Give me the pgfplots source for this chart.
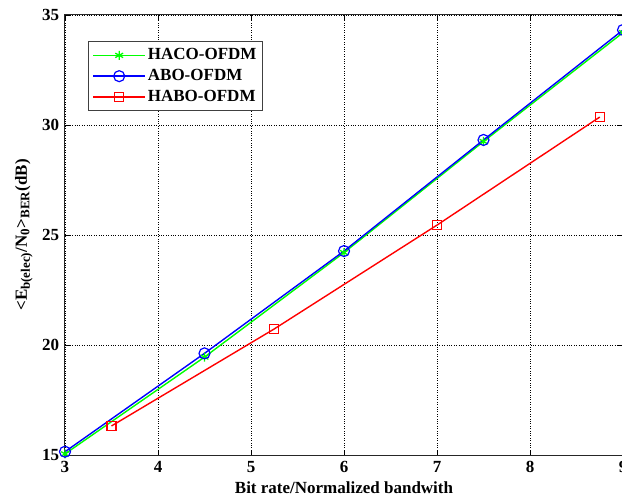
\documentclass[border=0pt]{standalone}
\usepackage{fontspec}
\setmainfont{Liberation Serif}
\usepackage{pgfplots}
\pgfplotsset{compat=1.18}
\usetikzlibrary{calc}
\begin{document}
\fontsize{17}{20}\selectfont\bfseries
\begin{tikzpicture}
\begin{axis}[name=ax, scale only axis, width=558pt, height=440pt,
 xmin=3, xmax=9, ymin=15, ymax=35,
 xtick={3,4,5,6,7,8,9}, ytick={15,20,25,30,35},
 grid=major, major grid style={black, dotted, line width=0.8pt},
 axis line style={black!85, line width=1pt},
 tick style={black, line width=0.8pt}, tick align=inside, major tick length=5pt,
 tick label style={font=\fontsize{17}{17}\selectfont\bfseries},
 /pgf/number format/assume math mode=true,
 xlabel={Bit rate/Normalized bandwith},
 ylabel={<E\textsubscript{\fontsize{13}{13}\selectfont b(elec)}/N\textsubscript{\fontsize{13}{13}\selectfont 0}>\textsubscript{\fontsize{13}{13}\selectfont BER}(dB)},
 label style={font=\fontsize{17}{17}\selectfont\bfseries},
 xlabel style={yshift=2pt},
 ylabel style={yshift=-2pt},
 legend style={at={(0.0412,0.941)}, anchor=north west, draw=black!75, line width=1pt,
   font=\fontsize{17}{19}\selectfont\bfseries, inner xsep=4pt, inner ysep=5pt, row sep=3pt},
 legend cell align=left,
 legend image code/.code={\draw[mark repeat=2,mark phase=2] plot coordinates {(0pt,0pt) (26pt,0pt) (52pt,0pt)};},
]
\addplot[color=green!100!black, line width=1.4pt, mark=asterisk, mark size=4.5pt, mark options={solid, line width=1.3pt}]
 coordinates {(3,15.05) (4.5,19.45) (6,24.2) (7.5,29.25) (9,34.2)};
\addlegendentry{HACO-OFDM}
\addplot[color=blue, line width=1.4pt, mark=o, mark size=5.5pt, mark options={solid, line width=1.2pt}]
 coordinates {(3,15.15) (4.5,19.62) (6,24.27) (7.5,29.32) (9,34.32)};
\addlegendentry{ABO-OFDM}
\addplot[color=red, line width=1.4pt, mark=square, mark size=4.5pt, mark options={solid, line width=1.2pt}]
 coordinates {(3.5,16.32) (5.25,20.73) (7,25.45) (8.75,30.36)};
\addlegendentry{HABO-OFDM}
\end{axis}
\pgfresetboundingbox
\path ($(ax.south west)+(-65pt,-46pt)$) rectangle ($(ax.north east)+(-1pt,15pt)$);
\end{tikzpicture}
\end{document}
